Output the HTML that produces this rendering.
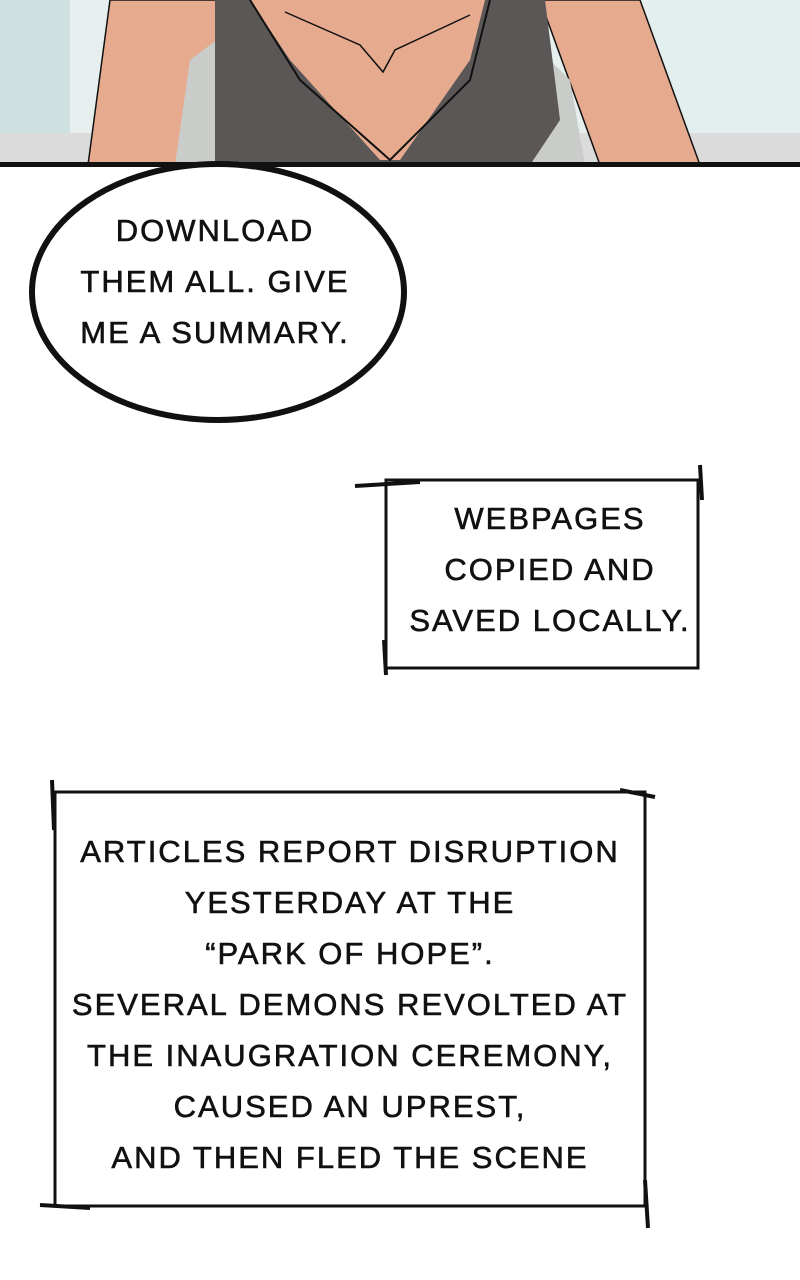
<!DOCTYPE html>
<html><head><style>
html,body{margin:0;padding:0;background:#fff;}
body{width:800px;height:1280px;position:relative;overflow:hidden;}
.t{position:absolute;font-family:"Liberation Sans",sans-serif;font-weight:normal;font-size:31px;color:#111;text-align:center;line-height:51px;letter-spacing:2px;-webkit-text-stroke:0.6px #111;}
</style></head><body>
<svg width="800" height="1280" style="position:absolute;left:0;top:0">
<rect x="0" y="0" width="800" height="165" fill="#e6eeee"/>
<rect x="0" y="0" width="70" height="135" fill="#cfe0e0"/>
<rect x="0" y="133" width="800" height="32" fill="#dcdbdc"/>
<rect x="650" y="0" width="150" height="133" fill="#e3eeee"/>
<polygon points="110,0 225,0 230,165 88,165" fill="#e6ab8f" stroke="#111" stroke-width="1.5"/>
<polygon points="540,0 640,0 700,165 600,165" fill="#e6ab8f" stroke="#111" stroke-width="1.5"/>
<polygon points="190,60 230,30 240,165 175,165" fill="#c9ccc8"/>
<polygon points="530,40 570,80 585,165 530,165" fill="#c9ccc8"/>
<polygon points="215,0 545,0 560,120 530,165 215,165" fill="#5b5757"/>
<polygon points="250,0 485,0 470,60 400,160 380,160 290,60" fill="#e6ab8f"/>
<polyline points="250,0 300,80 390,160 470,80 490,0" fill="none" stroke="#111" stroke-width="2"/>
<polyline points="285,12 360,45 383,72 395,50 470,15" fill="none" stroke="#111" stroke-width="1.5"/>
<rect x="0" y="162" width="800" height="5" fill="#111"/>
<ellipse cx="218" cy="292" rx="186" ry="128" fill="#fff" stroke="#111" stroke-width="6"/>
<rect x="386" y="480" width="312" height="188" fill="#fff" stroke="#111" stroke-width="3"/>
<line x1="355" y1="486" x2="420" y2="482" stroke="#111" stroke-width="4"/>
<line x1="700" y1="465" x2="702" y2="500" stroke="#111" stroke-width="4"/>
<line x1="384" y1="640" x2="386" y2="675" stroke="#111" stroke-width="4"/>
<rect x="55" y="792" width="590" height="414" fill="#fff" stroke="#111" stroke-width="3"/>
<line x1="52" y1="780" x2="54" y2="830" stroke="#111" stroke-width="4"/>
<line x1="620" y1="790" x2="655" y2="797" stroke="#111" stroke-width="4"/>
<line x1="40" y1="1205" x2="90" y2="1208" stroke="#111" stroke-width="4"/>
<line x1="645" y1="1180" x2="648" y2="1228" stroke="#111" stroke-width="4"/>
</svg>
<div class="t" style="left:40px;top:205px;width:350px;">DOWNLOAD<br>THEM ALL. GIVE<br>ME A SUMMARY.</div>
<div class="t" style="left:385px;top:493px;width:330px;">WEBPAGES<br>COPIED AND<br>SAVED LOCALLY.</div>
<div class="t" style="left:20px;top:826px;width:660px;">ARTICLES REPORT DISRUPTION<br>YESTERDAY AT THE<br>“PARK OF HOPE”.<br>SEVERAL DEMONS REVOLTED AT<br>THE INAUGRATION CEREMONY,<br>CAUSED AN UPREST,<br>AND THEN FLED THE SCENE</div>
</body></html>
